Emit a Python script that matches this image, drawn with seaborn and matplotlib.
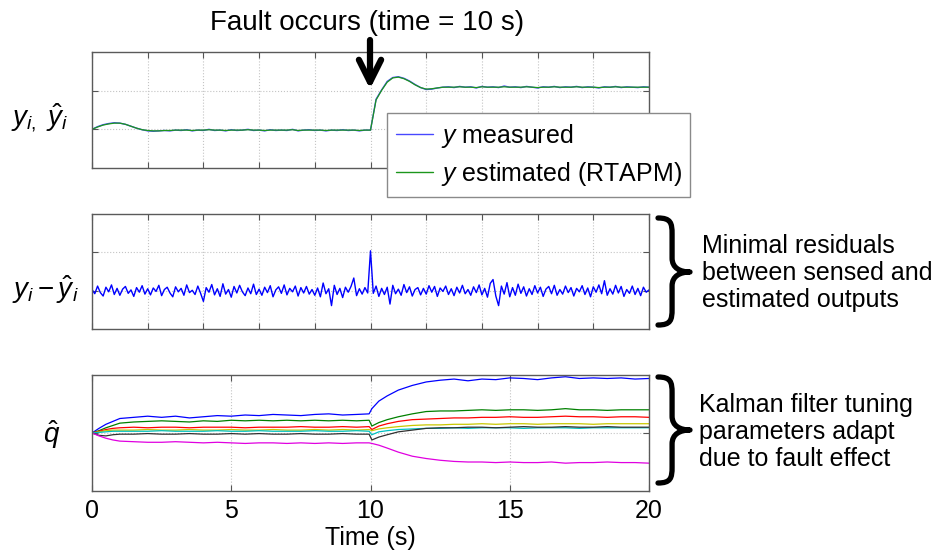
import numpy as np
import pandas as pd
import seaborn as sns
import matplotlib
matplotlib.use("Agg")
import matplotlib.pyplot as plt
from matplotlib.lines import Line2D
from matplotlib.path import Path
from matplotlib.patches import PathPatch

# top panel: measured vs estimated output, sampled every 0.2 s (0..20 s)
y_measured = [1.00, 1.07, 1.12, 1.15, 1.17, 1.16, 1.13, 1.08, 1.03, 0.99, 0.96, 0.95, 0.96, 0.97, 0.96, 0.98,
              0.97, 0.99, 0.96, 0.98, 0.97, 1.00, 0.97, 0.98, 0.96, 0.99, 0.97, 0.98, 1.00, 0.97, 0.98, 0.96, 0.99,
              0.97, 0.98, 0.97, 1.00, 0.96, 0.98, 0.99, 0.97, 0.98, 0.96, 0.98, 0.97, 0.99, 0.97, 0.98, 0.96, 0.98,
              0.98,
              1.78, 2.02, 2.24, 2.34, 2.36, 2.32, 2.25, 2.16, 2.08, 2.03, 2.04, 2.07, 2.09,
              2.10, 2.08, 2.11, 2.09, 2.10, 2.07, 2.11, 2.09, 2.10, 2.08, 2.12, 2.09, 2.10, 2.08, 2.11, 2.09, 2.07,
              2.10, 2.09, 2.11, 2.08, 2.10, 2.09, 2.11, 2.08, 2.10, 2.09, 2.07, 2.10, 2.09, 2.11, 2.08, 2.10, 2.09,
              2.08, 2.10, 2.09]
y_estimated = [1.00, 1.06, 1.11, 1.14, 1.16, 1.16, 1.13, 1.08, 1.03, 0.99, 0.97, 0.96, 0.96, 0.97, 0.97, 0.98,
               0.98, 0.98, 0.97, 0.98, 0.98, 0.99, 0.98, 0.98, 0.97, 0.98, 0.98, 0.98, 0.99, 0.98, 0.98, 0.97, 0.98,
               0.98, 0.98, 0.98, 0.99, 0.97, 0.98, 0.98, 0.98, 0.98, 0.97, 0.98, 0.98, 0.98, 0.98, 0.98, 0.97, 0.98,
               0.98,
               1.76, 2.01, 2.22, 2.33, 2.35, 2.31, 2.24, 2.15, 2.08, 2.04, 2.05, 2.07, 2.09,
               2.09, 2.09, 2.10, 2.09, 2.09, 2.08, 2.10, 2.09, 2.09, 2.09, 2.10, 2.09, 2.09, 2.09, 2.10, 2.09, 2.08,
               2.09, 2.09, 2.10, 2.09, 2.09, 2.09, 2.10, 2.09, 2.09, 2.09, 2.08, 2.09, 2.09, 2.10, 2.09, 2.09, 2.09,
               2.09, 2.09, 2.09]

# middle panel: residual y - y_hat, every 0.1 s, in hundredths
residual_cents = [3, -8, 12, -5, -14, 9, -3, 15, -10, 6, -12, 4, 11, -7, 2, -15, 8, -4, 13, -9,
                  5, -11, 7, -2, 14, -13, 3, 9, -6, -16, 10, -3, 6, -12, 15, -5, 1, -10, 12, -7,
                  -28, 8, -4, 16, -11, 5, -15, 18, -9, 3, -17, 11, -6, 14, -3, -13, 7, -8, 17, -10,
                  4, -12, 9, -5, 13, -16, 2, 10, -7, 15, -11, 6, -3, 12, -14, 8, -6, 11, -9, 3,
                  -12, 7, -16, 20, -8, 5, -39, 14, -10, 6, -18, 9, -4, 11, 33, -13, 5, -9, 8, -6,
                  104, -7, 12, -15, 6, -10, 9, -35, 14, -8, 4, -12, 16, -5, 10, -14, 3, 8, -11, 6,
                  -9, 13, -4, 11, -15, 7, -2, 12, -10, 5, -13, 9, -6, 14, -8, 3, -12, 10, -5, 15,
                  -11, 6, -17, 19, 29, -14, -39, 12, -9, 21, -16, 8, -12, 17, -7, 10, -14, 5, -10, 13,
                  -6, 9, -15, 4, 11, -8, 14, -12, 3, -9, 12, -5, 8, -14, 6, -3, 13, -10, 7, -16,
                  10, -4, 15, -8, 26, -12, 5, -9, 14, -6, 11, -15, 3, -7, 12, -10, 6, -13, 9, -4,
                  2]

# bottom panel: Kalman tuning parameters q_hat
t_q = [0, 0.25, 0.5, 0.75, 1, 1.5, 2, 2.5, 3, 3.5, 4, 4.5, 5, 5.5, 6, 6.5, 7, 7.5, 8, 8.5, 9, 9.5,
       9.95, 10.05, 10.3, 10.6, 11, 11.5, 12, 12.5, 13, 13.5, 14, 14.5, 15, 15.5, 16, 16.5, 17, 17.5,
       18, 18.5, 19, 19.5, 20]
q_blue = [0, 0.08, 0.15, 0.20, 0.25,
          0.27, 0.29, 0.27, 0.29, 0.26, 0.28, 0.30, 0.29, 0.31, 0.30, 0.32, 0.31, 0.30, 0.32, 0.33, 0.31, 0.32,
          0.33, 0.42, 0.55, 0.64,
          0.74, 0.82, 0.88, 0.91, 0.93, 0.90, 0.93, 0.92, 0.95, 0.94, 0.92, 0.95, 0.97, 0.94, 0.95, 0.94, 0.95, 0.93, 0.94]
q_green = [0, 0.04, 0.09, 0.13, 0.17,
           0.19, 0.20, 0.21, 0.20, 0.19, 0.21, 0.20, 0.22, 0.21, 0.22, 0.21, 0.22, 0.21, 0.22, 0.21, 0.22, 0.21,
           0.22, 0.12, 0.18, 0.23,
           0.28, 0.33, 0.37, 0.38, 0.38, 0.39, 0.40, 0.39, 0.40, 0.40, 0.39, 0.40, 0.42, 0.40, 0.40, 0.39, 0.40, 0.40, 0.40]
q_red = [0, 0.03, 0.06, 0.08, 0.09,
         0.10, 0.09, 0.10, 0.10, 0.09, 0.10, 0.10, 0.10, 0.09, 0.10, 0.10, 0.10, 0.11, 0.10, 0.10, 0.11, 0.10,
         0.11, 0.06, 0.12, 0.16,
         0.20, 0.23, 0.24, 0.25, 0.26, 0.26, 0.27, 0.27, 0.28, 0.27, 0.27, 0.28, 0.29, 0.28, 0.28, 0.27, 0.28, 0.28, 0.27]
q_yellow = [0, 0.02, 0.04, 0.05, 0.05,
            0.05, 0.06, 0.05, 0.05, 0.06, 0.05, 0.05, 0.06, 0.05, 0.05, 0.06, 0.05, 0.05, 0.06, 0.05, 0.06, 0.05,
            0.06, 0.04, 0.07, 0.09,
            0.11, 0.13, 0.14, 0.14, 0.15, 0.15, 0.16, 0.15, 0.16, 0.16, 0.15, 0.16, 0.16, 0.16, 0.15, 0.16, 0.16, 0.16, 0.16]
q_cyan = [0, 0.01, 0.02, 0.03, 0.03,
          0.03, 0.03, 0.04, 0.03, 0.03, 0.03, 0.04, 0.03, 0.03, 0.04, 0.03, 0.03, 0.03, 0.04, 0.03, 0.03, 0.04,
          0.03, -0.03, 0.02, 0.04,
          0.06, 0.07, 0.08, 0.08, 0.09, 0.08, 0.09, 0.09, 0.09, 0.08, 0.09, 0.09, 0.09, 0.08, 0.09, 0.09, 0.09, 0.09, 0.09]
q_black = [0, -0.04, -0.05, -0.03, -0.02,
           -0.02, -0.01, -0.02, -0.02, -0.01, -0.02, -0.02, -0.01, -0.02, -0.01, -0.02, -0.02, -0.01, -0.02, -0.02, -0.01, -0.02,
           -0.02, -0.12, -0.07, -0.03,
           0.02, 0.05, 0.08, 0.09, 0.09, 0.10, 0.10, 0.09, 0.10, 0.11, 0.10, 0.10, 0.11, 0.10, 0.10, 0.11, 0.10, 0.10, 0.10]
q_magenta = [0, -0.05, -0.09, -0.12, -0.14,
             -0.15, -0.16, -0.16, -0.15, -0.16, -0.17, -0.16, -0.17, -0.18, -0.17, -0.17, -0.18, -0.17, -0.18, -0.17, -0.18, -0.17,
             -0.17, -0.18, -0.21, -0.26,
             -0.33, -0.40, -0.44, -0.47, -0.49, -0.50, -0.50, -0.51, -0.50, -0.51, -0.51, -0.50, -0.52, -0.51, -0.51, -0.50, -0.51, -0.51, -0.52]

q_series = {"blue": q_blue, "green": q_green, "red": q_red, "yellow": q_yellow,
            "cyan": q_cyan, "black": q_black, "magenta": q_magenta}
q_colors = {"blue": "#0000ff", "green": "#008000", "red": "#ff0000", "yellow": "#c8c800",
            "cyan": "#00c0c0", "black": "#303030", "magenta": "#e000e0"}

sns.set_theme(style="white")
plt.rcParams['font.family'] = ['Liberation Sans', 'DejaVu Sans']
plt.rcParams['mathtext.fontset'] = 'custom'
plt.rcParams['mathtext.rm'] = 'Liberation Sans'
plt.rcParams['mathtext.it'] = 'Liberation Sans:italic'
plt.rcParams['text.color'] = 'black'
plt.rcParams['axes.labelcolor'] = 'black'

W, H = 935, 550
def fx(px):
    return px / W
def fy(py):
    return 1 - py / H

fig = plt.figure(figsize=(9.35, 5.5), dpi=100)
fig.patch.set_facecolor("white")
ax1 = fig.add_axes([fx(92), fy(168), 557 / W, 116 / H])
ax2 = fig.add_axes([fx(92), fy(329), 557 / W, 115 / H])
ax3 = fig.add_axes([fx(92), fy(491), 557 / W, 116 / H])


def style_axes(ax, xt, yt, ylim):
    ax.set_xlim(0, 20)
    ax.set_ylim(ylim)
    ax.set_xticks(xt)
    ax.set_yticks(yt)
    ax.grid(True, color="#c4c4c4", ls=":", lw=0.8)
    ax.tick_params(direction="in", length=4, width=0.8, color="#555555", labelcolor="black",
                   top=True, right=True, bottom=True, left=True,
                   labelleft=False, labelbottom=False)
    for s in ax.spines.values():
        s.set_color("#5a5a5a")
        s.set_linewidth(1)
    ax.set_xlabel("")
    ax.set_ylabel("")


# top panel
t_y = np.linspace(0, 20, len(y_measured))
sns.lineplot(x=t_y, y=y_measured, ax=ax1, color="#4848ff", lw=1.0, legend=False)
sns.lineplot(x=t_y, y=y_estimated, ax=ax1, color="#1c961c", lw=0.9, legend=False)
style_axes(ax1, np.arange(0, 21, 2), [1, 2], (0, 3))

handles = [Line2D([], [], color="#4848ff", lw=1), Line2D([], [], color="#1c961c", lw=1)]
leg = ax1.legend(handles, [r"$y$ measured", r"$y$ estimated (RTAPM)"], loc="upper left",
                 bbox_to_anchor=(fx(387), fy(113)), bbox_transform=fig.transFigure,
                 borderaxespad=0, fontsize=18, frameon=True, fancybox=False,
                 edgecolor="#8a8a8a", framealpha=1, handlelength=1.5, handletextpad=0.3,
                 borderpad=0.35, labelspacing=0.4)
leg.get_frame().set_linewidth(1)

# middle panel
residual = np.array(residual_cents) / 100
t_r = np.linspace(0, 20, len(residual))
sns.lineplot(x=t_r, y=residual, ax=ax2, color="#0000ff", lw=1.0, legend=False)
style_axes(ax2, np.arange(0, 21, 2), [0, 1], (-1, 2))

# bottom panel
q_df = pd.DataFrame([(t, v, name) for name, vals in q_series.items() for t, v in zip(t_q, vals)],
                    columns=["t", "q", "param"])
sns.lineplot(data=q_df, x="t", y="q", hue="param", palette=q_colors, lw=0.9, legend=False, ax=ax3)
style_axes(ax3, [0, 5, 10, 15, 20], [0], (-1, 1))
ax3.tick_params(labelbottom=True, labelsize=18, pad=6)
ax3.set_xlabel("Time (s)", fontsize=18, labelpad=2)

# annotations
fig.text(fx(367), fy(30), "Fault occurs (time = 10 s)", ha="center", va="baseline", fontsize=20)
ax1.annotate("", xy=(fx(370), fy(89)), xycoords="figure fraction",
             xytext=(fx(370), fy(40)), textcoords="figure fraction",
             arrowprops=dict(arrowstyle="->,head_length=0.8,head_width=0.4", lw=4.5,
                             color="black", shrinkA=0, shrinkB=0, mutation_scale=20),
             annotation_clip=False)

fig.text(fx(40), fy(118), r"$y_{i,}\ \hat{y}_i$", ha="center", va="center", fontsize=20)
fig.text(fx(45), fy(290), r"$y_i - \hat{y}_i$", ha="center", va="center", fontsize=20)
fig.text(fx(52), fy(435), r"$\hat{q}$", ha="center", va="center", fontsize=20)

fig.text(fx(702), fy(273), "Minimal residuals\nbetween sensed and\nestimated outputs",
         ha="left", va="center", fontsize=18, linespacing=1.17)
fig.text(fx(699), fy(432), "Kalman filter tuning\nparameters adapt\ndue to fault effect",
         ha="left", va="center", fontsize=18, linespacing=1.17)


def draw_brace(x0, x1, top, bottom, mid):
    w = x1 - x0
    xm = x0 + 0.44 * w
    pts = [(x0, top),
           (x0 + 0.4 * w, top), (xm, top + 5), (xm, top + 16),
           (xm, mid - 14),
           (xm, mid - 4), (xm + 0.25 * w, mid), (x1, mid),
           (xm + 0.25 * w, mid), (xm, mid + 4), (xm, mid + 14),
           (xm, bottom - 16),
           (xm, bottom - 5), (x0 + 0.4 * w, bottom), (x0, bottom)]
    codes = [Path.MOVETO, Path.CURVE4, Path.CURVE4, Path.CURVE4, Path.LINETO,
             Path.CURVE4, Path.CURVE4, Path.CURVE4, Path.CURVE4, Path.CURVE4, Path.CURVE4,
             Path.LINETO, Path.CURVE4, Path.CURVE4, Path.CURVE4]
    verts = [(fx(px), fy(py)) for px, py in pts]
    patch = PathPatch(Path(verts, codes), transform=fig.transFigure, fill=False,
                      lw=3.8, color="black", capstyle="round", joinstyle="round")
    fig.add_artist(patch)


draw_brace(658, 690, 218, 325, 272)
draw_brace(658, 690, 377, 483, 430)

fig.savefig("out.png", dpi=100)
